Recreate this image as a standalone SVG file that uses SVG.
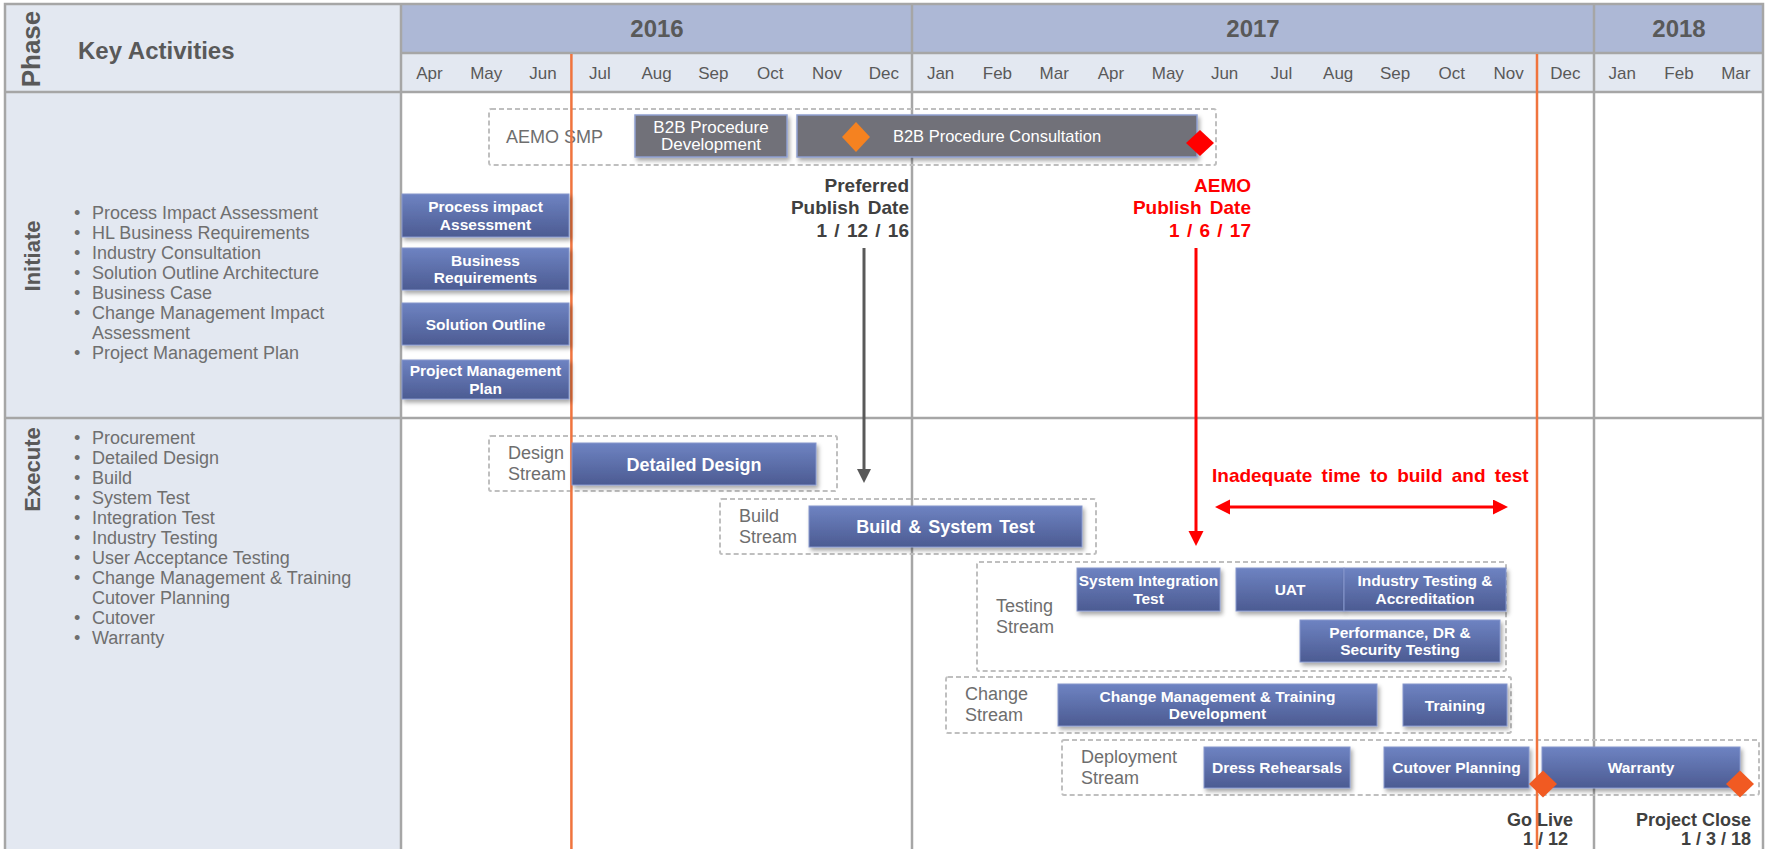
<svg xmlns="http://www.w3.org/2000/svg" width="1767" height="849" viewBox="0 0 1767 849">
<defs>
  <linearGradient id="gBlue" x1="0" y1="0" x2="0" y2="1">
    <stop offset="0" stop-color="#6e83c2"/>
    <stop offset="1" stop-color="#4c5b92"/>
  </linearGradient>
  <filter id="shadow" x="-10%" y="-20%" width="130%" height="160%">
    <feDropShadow dx="2" dy="3" stdDeviation="2" flood-color="#000" flood-opacity="0.35"/>
  </filter>
  <marker id="aGray" markerUnits="userSpaceOnUse" markerWidth="15" markerHeight="15" refX="0" refY="7" orient="auto">
    <path d="M0,0 L14,7 L0,14 z" fill="#595959"/>
  </marker>
  <marker id="aRed" markerUnits="userSpaceOnUse" markerWidth="16" markerHeight="16" refX="0" refY="7.5" orient="auto-start-reverse">
    <path d="M0,0 L15,7.5 L0,15 z" fill="#ff0000"/>
  </marker>
</defs>
<style>
  .grid{stroke:#a6a6a6;stroke-width:2.5;fill:none}
  .orange{stroke:#f0743e;stroke-width:2.5}
  .dash{fill:none;stroke:#bfbfbf;stroke-width:2;stroke-dasharray:5 3}
  .blue{fill:url(#gBlue);stroke:#8596cc;stroke-width:1;filter:url(#shadow)}
  .gray{fill:#717179;stroke:#8e9fd0;stroke-width:1.5;filter:url(#shadow)}
  text{font-family:"Liberation Sans",Arial,sans-serif}
  .bl{font-size:15.5px;font-weight:bold;fill:#fff;text-anchor:middle}
  .bl18{font-size:18px;font-weight:bold;fill:#fff;text-anchor:middle}
  .gl{font-size:17px;fill:#fff;text-anchor:middle}
  .st{font-size:18px;fill:#6e6e6e}
  .bul{font-size:18px;fill:#6f6f6f}
  .yr{font-size:24px;font-weight:bold;fill:#595959;text-anchor:middle}
  .mo{font-size:17px;fill:#595959;text-anchor:middle}
  .ph{font-size:22px;font-weight:bold;fill:#595959;text-anchor:middle}
  .ms{font-size:19px;font-weight:bold;text-anchor:end}
  .ms18{font-size:18px;font-weight:bold;fill:#404040;text-anchor:end}
</style>

<!-- background -->
<g id="background">
  <rect x="0" y="0" width="1767" height="849" fill="#ffffff"/>
  <rect x="5" y="4" width="396" height="850" fill="#e3e8f1"/>
  <rect x="401" y="4" width="1362" height="49" fill="#adb8d6"/>
  <rect x="401" y="53" width="1362" height="39" fill="#e3e8f1"/>
</g>

<!-- grid -->
<g id="grid">
  <line class="grid" x1="401" y1="53" x2="1763" y2="53"/>
  <line class="grid" x1="5" y1="92" x2="1763" y2="92"/>
  <line class="grid" x1="5" y1="418" x2="1763" y2="418"/>
  <line class="grid" x1="401" y1="4" x2="401" y2="849"/>
  <line class="grid" x1="912" y1="4" x2="912" y2="849"/>
  <line class="grid" x1="1594" y1="4" x2="1594" y2="849"/>
  <path class="grid" d="M5,849 V4 H1763 V849"/>
</g>

<!-- header -->
<g id="header">
  <text class="ph" style="font-size:26px" x="40" y="49" transform="rotate(-90 40 49)">Phase</text>
  <text x="78" y="59" style="font-size:24px;font-weight:bold;fill:#595959">Key Activities</text>
  <text class="yr" x="657" y="37">2016</text>
  <text class="yr" x="1253" y="37">2017</text>
  <text class="yr" x="1679" y="37">2018</text>
  <g id="months">
    <text class="mo" x="429.4" y="79">Apr</text>
    <text class="mo" x="486.2" y="79">May</text>
    <text class="mo" x="543" y="79">Jun</text>
    <text class="mo" x="599.8" y="79">Jul</text>
    <text class="mo" x="656.6" y="79">Aug</text>
    <text class="mo" x="713.4" y="79">Sep</text>
    <text class="mo" x="770.2" y="79">Oct</text>
    <text class="mo" x="827" y="79">Nov</text>
    <text class="mo" x="883.8" y="79">Dec</text>
    <text class="mo" x="940.6" y="79">Jan</text>
    <text class="mo" x="997.4" y="79">Feb</text>
    <text class="mo" x="1054.2" y="79">Mar</text>
    <text class="mo" x="1111" y="79">Apr</text>
    <text class="mo" x="1167.8" y="79">May</text>
    <text class="mo" x="1224.6" y="79">Jun</text>
    <text class="mo" x="1281.4" y="79">Jul</text>
    <text class="mo" x="1338.2" y="79">Aug</text>
    <text class="mo" x="1395" y="79">Sep</text>
    <text class="mo" x="1451.8" y="79">Oct</text>
    <text class="mo" x="1508.6" y="79">Nov</text>
    <text class="mo" x="1565.4" y="79">Dec</text>
    <text class="mo" x="1622.2" y="79">Jan</text>
    <text class="mo" x="1679" y="79">Feb</text>
    <text class="mo" x="1735.8" y="79">Mar</text>
  </g>
</g>

<!-- phase column -->
<g id="phase-initiate">
  <text class="ph" x="39.5" y="256" transform="rotate(-90 39.5 256)">Initiate</text>
  <g class="bul">
    <text x="74" y="219">•</text><text x="92" y="219">Process Impact Assessment</text>
    <text x="74" y="239">•</text><text x="92" y="239">HL Business Requirements</text>
    <text x="74" y="259">•</text><text x="92" y="259">Industry Consultation</text>
    <text x="74" y="279">•</text><text x="92" y="279">Solution Outline Architecture</text>
    <text x="74" y="299">•</text><text x="92" y="299">Business Case</text>
    <text x="74" y="319">•</text><text x="92" y="319">Change Management Impact</text>
    <text x="92" y="339">Assessment</text>
    <text x="74" y="359">•</text><text x="92" y="359">Project Management Plan</text>
  </g>
</g>
<g id="phase-execute">
  <text class="ph" x="40" y="469.5" transform="rotate(-90 40 469.5)">Execute</text>
  <g class="bul">
    <text x="74" y="444">•</text><text x="92" y="444">Procurement</text>
    <text x="74" y="464">•</text><text x="92" y="464">Detailed Design</text>
    <text x="74" y="484">•</text><text x="92" y="484">Build</text>
    <text x="74" y="504">•</text><text x="92" y="504">System Test</text>
    <text x="74" y="524">•</text><text x="92" y="524">Integration Test</text>
    <text x="74" y="544">•</text><text x="92" y="544">Industry Testing</text>
    <text x="74" y="564">•</text><text x="92" y="564">User Acceptance Testing</text>
    <text x="74" y="584">•</text><text x="92" y="584">Change Management &amp; Training</text>
    <text x="92" y="604">Cutover Planning</text>
    <text x="74" y="624">•</text><text x="92" y="624">Cutover</text>
    <text x="74" y="644">•</text><text x="92" y="644">Warranty</text>
  </g>
</g>

<!-- stream containers -->
<g id="stream-aemo-smp"><rect class="dash" x="489" y="109" width="727" height="56" rx="2"/><text class="st" x="506" y="143">AEMO SMP</text></g>
<g id="stream-design"><rect class="dash" x="489" y="436" width="348" height="55" rx="2"/><text class="st" x="508" y="459">Design</text><text class="st" x="508" y="480">Stream</text></g>
<g id="stream-build"><rect class="dash" x="720" y="499" width="376" height="55" rx="2"/><text class="st" x="739" y="522">Build</text><text class="st" x="739" y="543">Stream</text></g>
<g id="stream-testing"><rect class="dash" x="977" y="562" width="529" height="109" rx="2"/><text class="st" x="996" y="612">Testing</text><text class="st" x="996" y="633">Stream</text></g>
<g id="stream-change"><rect class="dash" x="946" y="677" width="565" height="56" rx="2"/><text class="st" x="965" y="700">Change</text><text class="st" x="965" y="721">Stream</text></g>
<g id="stream-deployment"><rect class="dash" x="1062" y="740" width="697" height="55" rx="2"/><text class="st" x="1081" y="763">Deployment</text><text class="st" x="1081" y="784">Stream</text></g>

<!-- milestone lines -->
<g id="milestone-lines">
  <line class="orange" x1="571.4" y1="54" x2="571.4" y2="849"/>
  <line class="orange" x1="1537" y1="54" x2="1537" y2="849"/>
</g>

<!-- AEMO SMP tasks -->
<g id="n-b2b-dev"><rect class="gray" x="635" y="115" width="152" height="42"/><text class="gl" x="711" y="132.7">B2B Procedure</text><text class="gl" x="711" y="150">Development</text></g>
<g id="n-b2b-consult"><rect class="gray" x="797" y="115" width="400" height="42"/><text class="gl" style="font-size:16.5px" x="997" y="141.7">B2B Procedure Consultation</text></g>

<!-- Initiate tasks -->
<g id="n-process-impact"><rect class="blue" x="402" y="194" width="167" height="43"/><text class="bl" x="485.5" y="212.2">Process impact</text><text class="bl" x="485.5" y="229.5">Assessment</text></g>
<g id="n-business-req"><rect class="blue" x="402" y="248" width="167" height="42"/><text class="bl" x="485.5" y="265.7">Business</text><text class="bl" x="485.5" y="283">Requirements</text></g>
<g id="n-solution-outline"><rect class="blue" x="402" y="303" width="167" height="42"/><text class="bl" x="485.5" y="329.5">Solution Outline</text></g>
<g id="n-pm-plan"><rect class="blue" x="402" y="360" width="167" height="39"/><text class="bl" x="485.5" y="376.2">Project Management</text><text class="bl" x="485.5" y="393.5">Plan</text></g>

<!-- Execute tasks -->
<g id="n-detailed-design"><rect class="blue" x="572" y="443" width="244" height="42"/><text class="bl18" x="694" y="470.5">Detailed Design</text></g>
<g id="n-build-test"><rect class="blue" x="809" y="506" width="273" height="41"/><text class="bl18" style="word-spacing:2px" x="945.5" y="533">Build &amp; System Test</text></g>
<g id="n-sit"><rect class="blue" x="1077" y="568" width="143" height="43"/><text class="bl" x="1148.5" y="586.2">System Integration</text><text class="bl" x="1148.5" y="603.5">Test</text></g>
<g id="n-uat"><rect class="blue" x="1236" y="568" width="108" height="43"/><text class="bl" x="1290" y="595">UAT</text></g>
<g id="n-industry-testing"><rect class="blue" x="1344" y="568" width="162" height="43"/><text class="bl" x="1425" y="586.2">Industry Testing &amp;</text><text class="bl" x="1425" y="603.5">Accreditation</text></g>
<g id="n-perf"><rect class="blue" x="1300" y="620" width="200" height="42"/><text class="bl" x="1400" y="637.7">Performance, DR &amp;</text><text class="bl" x="1400" y="655">Security Testing</text></g>
<g id="n-cm-training"><rect class="blue" x="1058" y="684" width="319" height="42"/><text class="bl" x="1217.5" y="701.7">Change Management &amp; Training</text><text class="bl" x="1217.5" y="719">Development</text></g>
<g id="n-training"><rect class="blue" x="1403" y="684" width="104" height="42"/><text class="bl" x="1455" y="710.5">Training</text></g>
<g id="n-dress"><rect class="blue" x="1204" y="747" width="146" height="41"/><text class="bl" x="1277" y="773">Dress Rehearsals</text></g>
<g id="n-cutover"><rect class="blue" x="1384" y="747" width="145" height="41"/><text class="bl" x="1456.5" y="773">Cutover Planning</text></g>
<g id="n-warranty"><rect class="blue" x="1542" y="747" width="198" height="41"/><text class="bl" x="1641" y="773">Warranty</text></g>

<!-- milestones -->
<g id="m-consult-start"><path d="M856,122 L870,137 L856,152 L842,137 z" fill="#f58220"/></g>
<g id="m-aemo-publish"><path d="M1200,130 L1214,143 L1200,156 L1186,143 z" fill="#ff0000"/></g>
<g id="m-go-live"><path d="M1543,770.5 L1557,784 L1543,797.5 L1529,784 z" fill="#f15a22"/>
  <text class="ms18" x="1573" y="826">Go Live</text><text class="ms18" x="1568" y="845">1 / 12</text></g>
<g id="m-project-close"><path d="M1740,770.5 L1754,784 L1740,797.5 L1726,784 z" fill="#f15a22"/>
  <text class="ms18" x="1751" y="826">Project Close</text><text class="ms18" x="1751" y="845">1 / 3 / 18</text></g>
<g id="m-preferred">
  <text class="ms" fill="#404040" x="909" y="192">Preferred</text>
  <text class="ms" fill="#404040" style="word-spacing:3px" x="909" y="214">Publish Date</text>
  <text class="ms" fill="#404040" style="word-spacing:2px" x="909" y="237">1 / 12 / 16</text>
</g>
<g id="m-aemo-date">
  <text class="ms" fill="#ff0000" x="1251" y="192">AEMO</text>
  <text class="ms" fill="#ff0000" style="word-spacing:3px" x="1251" y="214">Publish Date</text>
  <text class="ms" fill="#ff0000" style="word-spacing:2px" x="1251" y="237">1 / 6 / 17</text>
</g>
<g id="note-inadequate">
  <text x="1212" y="482" style="font-size:19px;font-weight:bold;fill:#ff0000;word-spacing:4px">Inadequate time to build and test</text>
</g>

<!-- connectors -->
<g id="connectors">
  <line x1="864" y1="248" x2="864" y2="469" stroke="#595959" stroke-width="3" marker-end="url(#aGray)"/>
  <line x1="1196" y1="248" x2="1196" y2="531" stroke="#ff0000" stroke-width="3" marker-end="url(#aRed)"/>
  <line x1="1230" y1="507" x2="1493" y2="507" stroke="#ff0000" stroke-width="3" marker-start="url(#aRed)" marker-end="url(#aRed)"/>
</g>
</svg>
